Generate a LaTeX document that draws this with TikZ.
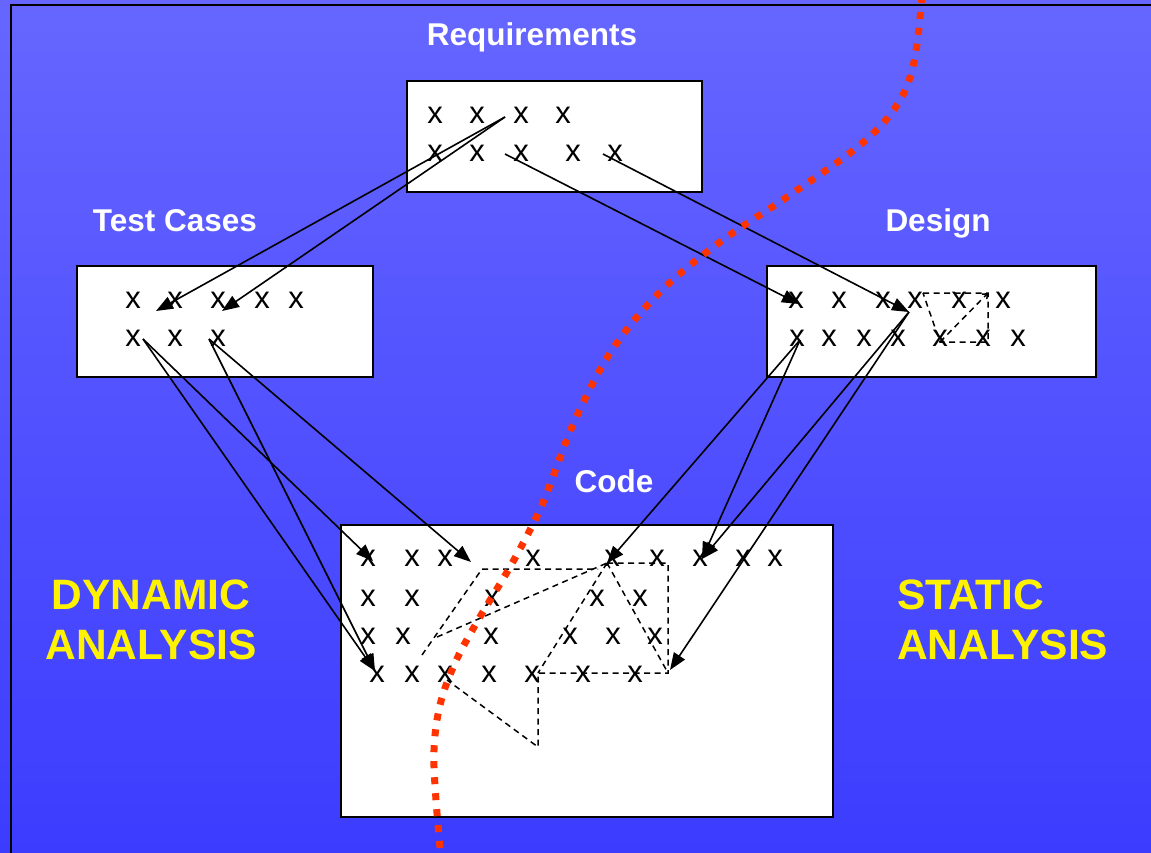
\documentclass[tikz,border=0pt]{standalone}
\usepackage{fontspec}
\setmainfont{Liberation Sans}
\usetikzlibrary{arrows.meta}
\definecolor{bgtop}{RGB}{102,102,255}
\definecolor{bgbot}{RGB}{60,60,255}
\definecolor{dotred}{RGB}{255,51,0}
\tikzset{
  box/.style={draw=black, fill=white, line width=2.4pt},
  itm/.style={inner sep=0pt, font=\fontsize{31}{36}\selectfont},
  boxtitle/.style={inner sep=0pt, anchor=base, text=white, font=\fontsize{31.5}{36}\selectfont\bfseries},
  sidetext/.style={inner sep=0pt, text=yellow, font=\fontsize{42.5}{50}\selectfont\bfseries},
  link/.style={line width=1.6pt, -{Triangle[length=17pt,width=13pt]}},
  dashline/.style={line width=1.5pt, dash pattern=on 6pt off 4.5pt},
  boundary/.style={draw=dotred, line width=7pt, dash pattern=on 7pt off 9pt},
}
\begin{document}
\begin{tikzpicture}[x=1pt,y=-1pt]
\useasboundingbox (0,0) rectangle (1151,853);
\shade[top color=bgtop, bottom color=bgbot] (0,0) rectangle (1151,853);
\draw[line width=2.6pt] (11,853) -- (11,5) -- (1151,5);

\filldraw[box] (407,81) rectangle (702,192);
\filldraw[box] (77,266) rectangle (373,377);
\filldraw[box] (767,266) rectangle (1096,377);
\filldraw[box] (341,525) rectangle (833,817);

\node[boxtitle] (reqlabel) at (532,46) {Requirements};
\node[boxtitle] (tclabel) at (175,232) {Test Cases};
\node[boxtitle] (dslabel) at (938,232) {Design};
\node[boxtitle] (cdlabel) at (614,492) {Code};
\node[sidetext, align=center] (dynlabel) at (151,620) {DYNAMIC\\ANALYSIS};
\node[sidetext, align=left, anchor=west] (stalabel) at (897,620) {STATIC\\ANALYSIS};

\foreach \xx [count=\i] in {435,477,521,563} \node[itm] (rq1-\i) at (\xx,115) {x};
\foreach \xx [count=\i] in {435,477,521,573,615} \node[itm] (rq2-\i) at (\xx,153) {x};
\foreach \xx [count=\i] in {133,175,218,262,296} \node[itm] (tc1-\i) at (\xx,300) {x};
\foreach \xx [count=\i] in {133,175,218} \node[itm] (tc2-\i) at (\xx,338) {x};
\foreach \xx [count=\i] in {796,839,883,915,959,1003} \node[itm] (ds1-\i) at (\xx,300) {x};
\foreach \xx [count=\i] in {797,829,864,898,940,983,1018} \node[itm] (ds2-\i) at (\xx,338) {x};
\foreach \xx [count=\i] in {368,412,445,533,612,657,700,743,775} \node[itm] (cd1-\i) at (\xx,558) {x};
\foreach \xx [count=\i] in {368,412,492,597,640} \node[itm] (cd2-\i) at (\xx,598) {x};
\foreach \xx [count=\i] in {368,403,491,570,613,655} \node[itm] (cd3-\i) at (\xx,636) {x};
\foreach \xx [count=\i] in {377,412,445,489,532,583,635} \node[itm] (cd4-\i) at (\xx,674) {x};

\coordinate (rq-a) at (505,117);
\coordinate (rq-b) at (505,154);
\coordinate (rq-c) at (603,154);
\coordinate (tc-in1) at (156,311);
\coordinate (tc-in2) at (222,311);
\coordinate (ds-in1) at (799,304);
\coordinate (ds-in2) at (909,312);
\coordinate (tc-a) at (143,339);
\coordinate (tc-b) at (209,339);
\coordinate (ds-a) at (800,340);
\coordinate (cd-in1) at (373,561);
\coordinate (cd-in2) at (471,562);
\coordinate (cd-in3) at (375,671);
\coordinate (cd-in4) at (607,563);
\coordinate (cd-in5) at (702,559);
\coordinate (cd-in6) at (670,670);

\draw[link] (rq-a) -- (tc-in1);
\draw[link] (rq-a) -- (tc-in2);
\draw[link] (rq-b) -- (ds-in1);
\draw[link] (rq-c) -- (ds-in2);
\draw[link] (tc-a) -- (cd-in1);
\draw[link] (tc-a) -- (cd-in3);
\draw[link] (tc-b) -- (cd-in2);
\draw[link] (tc-b) -- (cd-in3);
\draw[link] (ds-a) -- (cd-in4);
\draw[link] (ds-a) -- (cd-in5);
\draw[link] (ds-in2) -- (cd-in5);
\draw[link] (ds-in2) -- (cd-in6);

\draw[dashline] (923,293) -- (988,293) -- (988,342) -- (940,342) -- cycle;
\draw[dashline, -{Straight Barb[length=4pt,width=7pt]}] (940,342) -- (988,293);

\draw[dashline] (422,655) -- (482,569) -- (598,569);
\draw[dashline] (437,637) -- (cd-in4);
\draw[dashline] (cd-in4) -- (538,673);
\draw[dashline] (cd-in4) -- (668,673);
\draw[dashline] (cd-in4) -- (668,563) -- (668,673) -- (538,673) -- (538,747) -- (447,680);

\draw[boundary] plot[smooth, tension=0.6] coordinates {(922,-4) (914,62) (897,105) (860,145) (790,195) (720,242) (660,292) (612,350) (575,420) (548,490) (535,520) (510,567) (477,622) (455,663) (440,705) (434,750) (436,800) (441,858)};
\end{tikzpicture}
\end{document}
